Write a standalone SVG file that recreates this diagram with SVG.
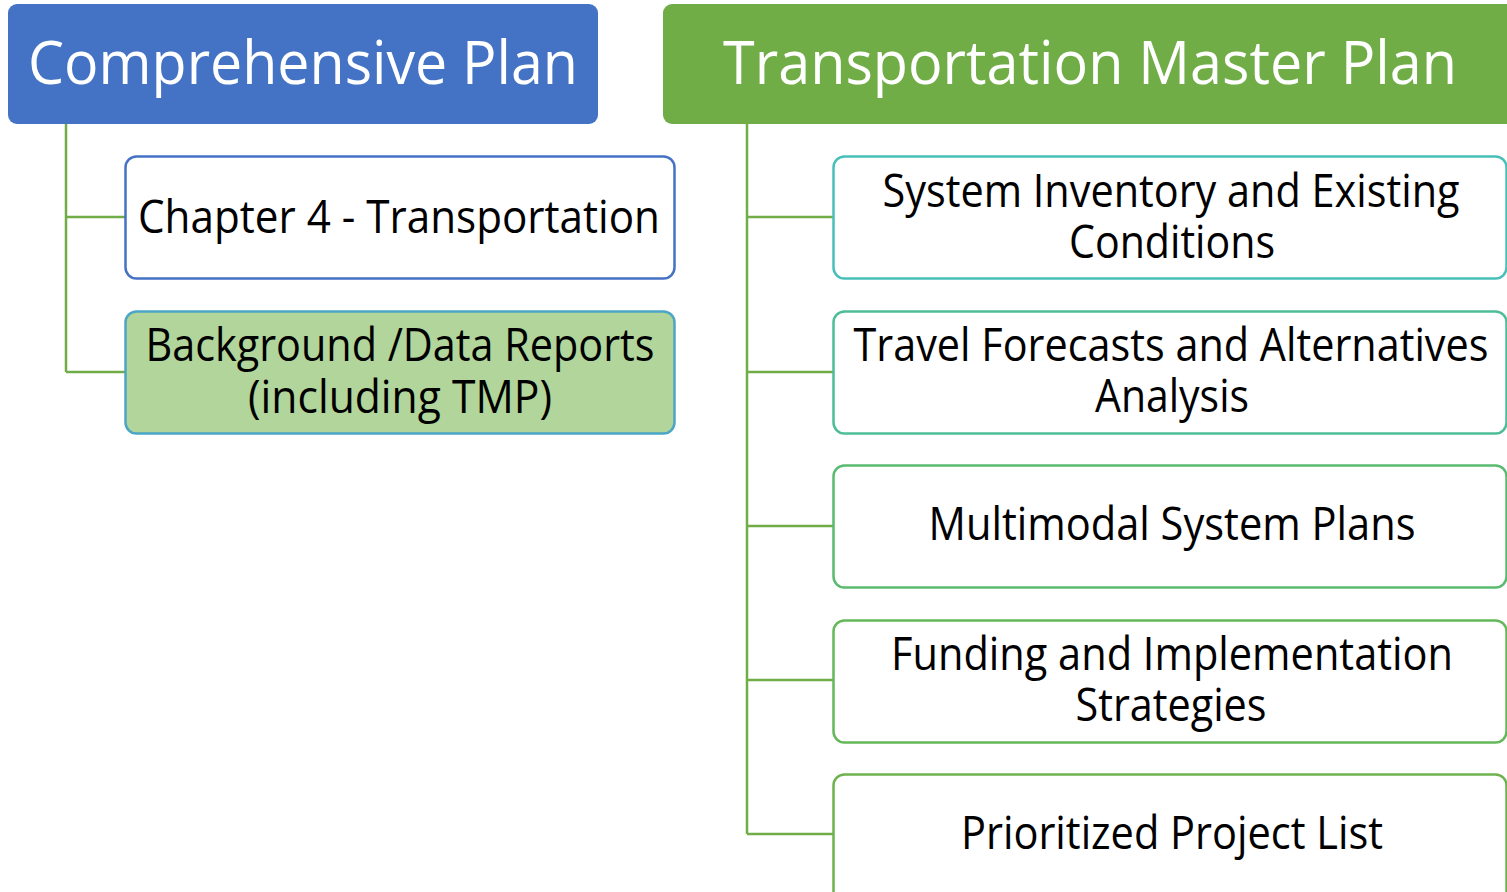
<svg xmlns="http://www.w3.org/2000/svg" width="1507" height="892" viewBox="0 0 1507 892">
<style>
.hdr{font-family:"Open Sans","Noto Sans",sans-serif;font-size:60px;fill:#ffffff;text-anchor:middle}
.txt{font-family:"Open Sans","Noto Sans",sans-serif;font-size:45px;fill:#000000;text-anchor:middle}
.conn{fill:none;stroke:#70AD47;stroke-width:2.5}
.box{stroke-width:2.5}
</style>
<rect width="1507" height="892" fill="#ffffff"/>
<g id="connectors">
<path class="conn" d="M66,124 V372 M66,217 H125 M66,372 H125"/>
<path class="conn" d="M747,124 V834 M747,217 H833 M747,372 H833 M747,526 H833 M747,680 H833 M747,834 H833"/>
</g>
<g id="comprehensive-plan">
<rect x="8" y="4" width="590" height="120" rx="9" fill="#4472C4"/>
<text class="hdr" x="303" y="84" textLength="550" lengthAdjust="spacingAndGlyphs">Comprehensive Plan</text>
</g>
<g id="transportation-master-plan">
<rect x="663" y="4" width="860" height="120" rx="9" fill="#70AD47"/>
<text class="hdr" x="1090" y="84" textLength="734" lengthAdjust="spacingAndGlyphs">Transportation Master Plan</text>
</g>
<g id="chapter-4">
<rect class="box" x="125.5" y="156.5" width="549" height="122" rx="11" fill="#ffffff" stroke="#4472C4"/>
<text class="txt" x="399" y="233" textLength="522" lengthAdjust="spacingAndGlyphs">Chapter 4 -  Transportation</text>
</g>
<g id="background-reports">
<rect class="box" x="125.5" y="311.5" width="549" height="122" rx="11" fill="#B1D59A" stroke="#4BA5C6"/>
<text class="txt" x="400" y="361" textLength="509" lengthAdjust="spacingAndGlyphs">Background /Data Reports</text>
<text class="txt" x="400" y="413" textLength="304" lengthAdjust="spacingAndGlyphs">(including TMP)</text>
</g>
<g id="system-inventory">
<rect class="box" x="833.5" y="156.5" width="673" height="122" rx="11" fill="#ffffff" stroke="#48C0B9"/>
<text class="txt" x="1171" y="207" textLength="577" lengthAdjust="spacingAndGlyphs">System Inventory and Existing</text>
<text class="txt" x="1172" y="258" textLength="206" lengthAdjust="spacingAndGlyphs">Conditions</text>
</g>
<g id="travel-forecasts">
<rect class="box" x="833.5" y="311.5" width="673" height="122" rx="11" fill="#ffffff" stroke="#4EBD97"/>
<text class="txt" x="1171" y="361" textLength="635" lengthAdjust="spacingAndGlyphs">Travel Forecasts and Alternatives</text>
<text class="txt" x="1172" y="412" textLength="154" lengthAdjust="spacingAndGlyphs">Analysis</text>
</g>
<g id="multimodal">
<rect class="box" x="833.5" y="465.5" width="673" height="122" rx="11" fill="#ffffff" stroke="#5ABB70"/>
<text class="txt" x="1172" y="540" textLength="487" lengthAdjust="spacingAndGlyphs">Multimodal System Plans</text>
</g>
<g id="funding">
<rect class="box" x="833.5" y="620.5" width="673" height="122" rx="11" fill="#ffffff" stroke="#64B85A"/>
<text class="txt" x="1172" y="670" textLength="562" lengthAdjust="spacingAndGlyphs">Funding and Implementation</text>
<text class="txt" x="1171" y="721" textLength="191" lengthAdjust="spacingAndGlyphs">Strategies</text>
</g>
<g id="prioritized">
<rect class="box" x="833.5" y="774.5" width="673" height="140" rx="11" fill="#ffffff" stroke="#6DB24E"/>
<text class="txt" x="1172" y="849" textLength="422" lengthAdjust="spacingAndGlyphs">Prioritized Project List</text>
</g>
</svg>
